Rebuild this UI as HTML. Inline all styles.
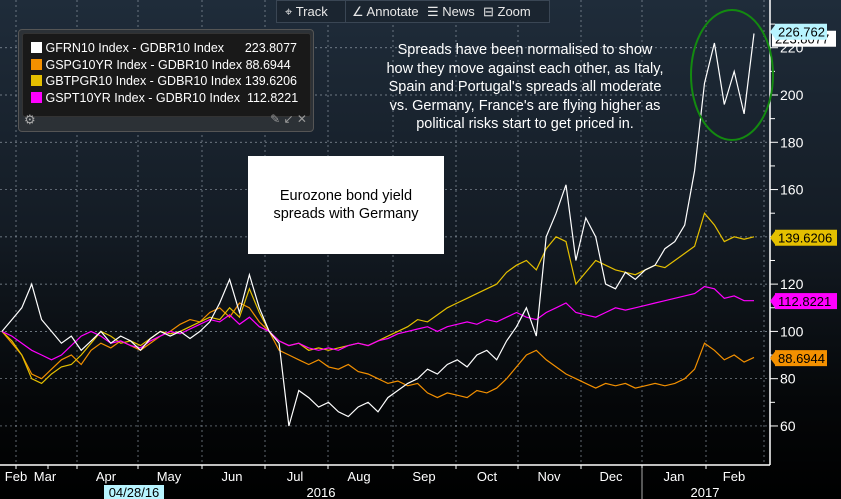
<!DOCTYPE html>
<html><head><meta charset="utf-8"><style>
body{margin:0;width:841px;height:499px;overflow:hidden;background:#000;font-family:"Liberation Sans",sans-serif}
#wrap{position:relative;width:841px;height:499px;background:linear-gradient(#1f2c3a 0%,#141c25 45%,#050709 80%,#000 100%)}
svg{position:absolute;left:0;top:0}
.t{font-family:"Liberation Sans",sans-serif}
</style></head><body><div id="wrap">
<svg id="c" width="841" height="499"></svg>
</div>
<script>
const monthLabels=["Feb","Mar","Apr","May","Jun","Jul","Aug","Sep","Oct","Nov","Dec","Jan","Feb"];
const yTicks=[60,80,100,120,140,160,180,200,220];
const france=[100,105,110,120,105,100,95,98,92,96,100,95,98,96,92,97,100,98,100,97,100,104,112,122,108,124,110,100,95,60,75,72,68,70,66,64,68,70,66,72,75,78,80,84,82,86,88,85,90,92,88,96,102,110,98,140,150,162,130,148,140,120,118,125,122,126,128,135,138,145,168,205,222,196,210,192,226];
const spain=[100,95,90,82,80,84,88,90,86,92,95,93,96,94,92,95,98,100,103,105,104,108,110,106,112,110,104,100,92,90,88,86,88,85,84,86,83,82,80,78,79,77,78,74,72,74,73,72,75,74,76,80,85,90,92,88,85,82,80,78,76,78,77,78,76,77,78,77,78,80,84,95,92,88,90,87,89];
const italy=[100,96,90,80,78,82,85,86,90,95,100,98,95,96,94,97,100,99,100,102,104,106,105,110,106,118,108,100,96,94,95,92,93,92,93,94,95,94,96,98,100,102,105,104,107,110,112,114,116,118,120,125,128,130,126,135,140,138,120,125,130,128,126,125,124,126,128,127,130,133,136,150,145,138,140,139,140];
const portugal=[100,98,95,92,90,88,90,94,98,100,98,95,96,94,93,96,98,100,99,101,103,105,104,107,103,106,102,100,96,94,95,93,92,93,92,94,95,94,96,97,99,100,101,102,100,102,103,104,103,105,104,106,108,106,105,108,110,112,108,107,106,108,110,109,110,111,112,113,114,115,116,119,118,114,115,113,113];
const lastLabels=[["226.762",226.762,"#b8f4ff"],["139.6206",139.6206,"#e5c000"],["112.8221",112.8221,"#ff00ff"],["88.6944",88.6944,"#f39000"]];
const NS="http://www.w3.org/2000/svg";
const svg=document.getElementById('c');
function el(tag,attrs,parent){const e=document.createElementNS(NS,tag);for(const k in attrs)e.setAttribute(k,attrs[k]);(parent||svg).appendChild(e);return e;}
function y(v){return 95+(200-v)*2.364;}
function x(i){return 2+i*(752/(france.length-1));}
const monthX=[16,48,77,138,202,265,328,393,456,518,581,642,706];
yTicks.forEach(v=>{const g=el('line',{x1:0,x2:768,y1:y(v),y2:y(v),stroke:'#8a95a0','stroke-dasharray':'2,3','stroke-width':0.7});
});
[16,77,138,202,265,328,393,456,518,581,642,706,764].forEach(px=>{const g=el('line',{x1:px,x2:px,y1:0,y2:465,stroke:'#8a95a0','stroke-dasharray':'2,3','stroke-width':0.7});
});
const ax=el('line',{x1:770,x2:770,y1:0,y2:465,stroke:'#fff','stroke-width':1.5});

const bx=el('line',{x1:0,x2:770,y1:465,y2:465,stroke:'#fff','stroke-width':1.5});

yTicks.forEach(v=>{el('line',{x1:770,x2:778,y1:y(v),y2:y(v),stroke:'#fff'});
el('line',{x1:770,x2:775,y1:y(v+10),y2:y(v+10),stroke:'#fff'});
const t=el('text',{x:780,y:y(v)+5,fill:'#fff','font-size':14,class:'t'});t.textContent=v;
});
const labX=[16,45,106,169,232,295,359,424,487,549,611,674,734];
monthLabels.forEach((m,i)=>{const t=el('text',{x:labX[i],y:481,fill:'#fff','font-size':13,'text-anchor':'middle',class:'t'});t.textContent=m;

el('line',{x1:monthX[i],x2:monthX[i],y1:465,y2:469,stroke:'#fff'});});
el('line',{x1:642,x2:642,y1:468,y2:499,stroke:'#aaa'});
let t=el('text',{x:321,y:497,fill:'#fff','font-size':13,'text-anchor':'middle',class:'t'});t.textContent='2016';

t=el('text',{x:705,y:497,fill:'#fff','font-size':13,'text-anchor':'middle',class:'t'});t.textContent='2017';

const db=el('rect',{x:104,y:485,width:60,height:14,fill:'#b8f4ff'});

t=el('text',{x:134,y:497,fill:'#000','font-size':13,'text-anchor':'middle',class:'t'});t.textContent='04/28/16';

[[spain,'#f39000','series-spain'],[italy,'#e5c000','series-italy'],[portugal,'#ff00ff','series-portugal'],[france,'#ffffff','series-france']].forEach(s=>{
const p=el('polyline',{points:s[0].map((v,i)=>x(i).toFixed(1)+','+y(v).toFixed(1)).join(' '),fill:'none',stroke:s[1],'stroke-width':1.2});
});
const ell=el('ellipse',{cx:732,cy:75,rx:41,ry:65,fill:'none',stroke:'#138a10','stroke-width':2});

el('rect',{x:772,y:y(223.8)-8,width:64,height:16,fill:'#fff'});
t=el('text',{x:775,y:y(223.8)+5,fill:'#000','font-size':13,class:'t'});t.textContent='223.8077';
lastLabels.forEach(l=>{const yy=y(l[1]);
el('polygon',{points:`770,${yy} 776,${yy-8} 776,${yy+8}`,fill:l[2]});
const r=el('rect',{x:775,y:yy-8,width:l[0].length>7?62:52,height:16,fill:l[2]});

const tt=el('text',{x:778,y:yy+5,fill:'#000','font-size':13,class:'t'});tt.textContent=l[0];
});
</script>
<div style="position:absolute;left:276px;top:0;width:272px;height:21px;background:#1b2530;border:1px solid #3a4654;color:#e8e8e8;font-size:13px;line-height:21px">
<span style="position:absolute;left:8px">⌖ Track</span>
<span style="position:absolute;left:68px;border-left:1px solid #3a4654;padding-left:6px">∠ Annotate</span>
<span style="position:absolute;left:150px">☰ News</span>
<span style="position:absolute;left:206px">⊟ Zoom</span>
</div>
<div style="position:absolute;left:18px;top:29px;width:294px;height:101px;background:#2c3136;border:1px solid #555;border-radius:4px">
<div style="position:absolute;left:3px;top:3px;width:287px;height:76px;background:#191919;border:1px solid #333;border-radius:3px;color:#fff;font-size:12.5px;line-height:16.5px;padding-top:6px">
<div style="padding-left:8px;white-space:pre"><span style="display:inline-block;width:11px;height:11px;background:#fff;vertical-align:-1px"></span> GFRN10 Index - GDBR10 Index      223.8077</div>
<div style="padding-left:8px;white-space:pre"><span style="display:inline-block;width:11px;height:11px;background:#f39000;vertical-align:-1px"></span> GSPG10YR Index - GDBR10 Index 88.6944</div>
<div style="padding-left:8px;white-space:pre"><span style="display:inline-block;width:11px;height:11px;background:#e5c000;vertical-align:-1px"></span> GBTPGR10 Index - GDBR10 Index 139.6206</div>
<div style="padding-left:8px;white-space:pre"><span style="display:inline-block;width:11px;height:11px;background:#ff00ff;vertical-align:-1px"></span> GSPT10YR Index - GDBR10 Index  112.8221</div>
</div>
<div style="position:absolute;left:5px;top:82px;color:#aaa;font-size:13px">⚙</div>
<div style="position:absolute;right:6px;top:82px;color:#999;font-size:12px">✎ ↙ ✕</div>
</div>
<div style="position:absolute;left:370px;top:41px;width:310px;text-align:center;color:#fff;font-size:14.5px;line-height:18.5px;white-space:nowrap">Spreads have been normalised to show<br>how they move against each other, as Italy,<br>Spain and Portugal's spreads all moderate<br>vs. Germany, France's are flying higher as<br>political risks start to get priced in.</div>
<div style="position:absolute;left:248px;top:156px;width:196px;height:98px;background:#fff;color:#000;font-size:14.5px;line-height:18px;text-align:center;display:flex;align-items:center;justify-content:center">Eurozone bond yield<br>spreads with Germany</div>
</body></html>
